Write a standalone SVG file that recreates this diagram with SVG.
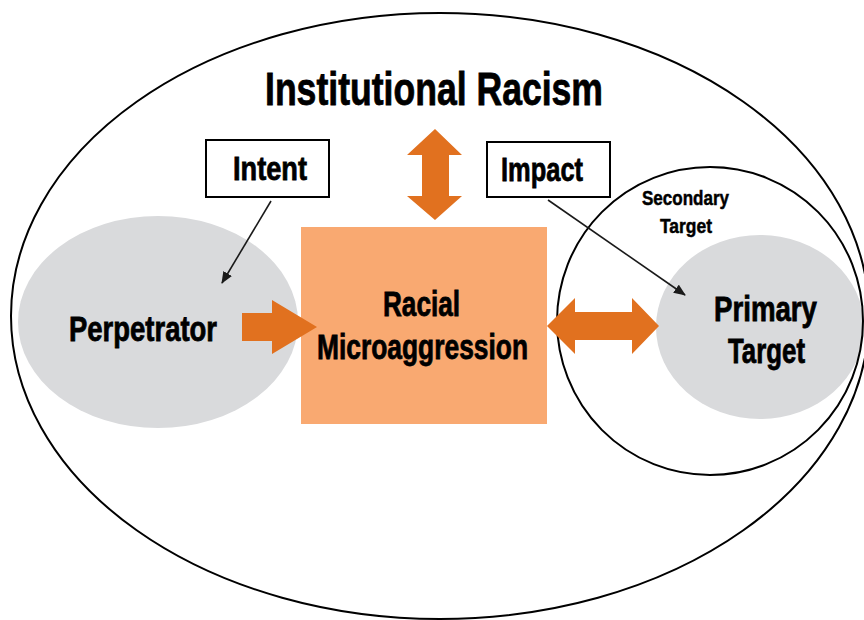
<svg xmlns="http://www.w3.org/2000/svg" width="864" height="620" viewBox="0 0 864 620">
  <style>
    .t { font-family: "Liberation Sans", "DejaVu Sans", sans-serif; font-weight: bold; fill: #000; stroke: #000; stroke-width: 0.8; }
    .s { stroke-width: 0.5; }
    .ring { fill: none; stroke: #000; stroke-width: 2; }
    .blob { fill: #D9DADC; }
    .box { fill: #fff; stroke: #000; stroke-width: 2; }
    .orange { fill: #E1711F; }
    .line { stroke: #1a1a1a; stroke-width: 1.6; fill: none; }
  </style>
  <defs>
    <marker id="ah" viewBox="0 0 12 10" refX="11" refY="5" markerWidth="12" markerHeight="10" markerUnits="userSpaceOnUse" orient="auto">
      <path d="M0,0 L12,5 L0,10 Z" fill="#1a1a1a"/>
    </marker>
  </defs>
  <rect width="864" height="620" fill="#fff"/>

  <g id="institutional-racism">
    <ellipse class="ring" cx="440" cy="316" rx="429" ry="303"/>
    <text class="t" x="265" y="105" font-size="46" textLength="338" lengthAdjust="spacingAndGlyphs">Institutional Racism</text>
  </g>

  <g id="perpetrator">
    <ellipse class="blob" cx="158" cy="322" rx="140" ry="106"/>
    <text class="t" x="69" y="341" font-size="35" textLength="148" lengthAdjust="spacingAndGlyphs">Perpetrator</text>
  </g>

  <g id="primary-target">
    <ellipse class="blob" cx="760" cy="327" rx="104" ry="92"/>
    <text class="t" x="714" y="321" font-size="35" textLength="103" lengthAdjust="spacingAndGlyphs">Primary</text>
    <text class="t" x="728" y="363" font-size="35" textLength="77" lengthAdjust="spacingAndGlyphs">Target</text>
  </g>

  <g id="secondary-target">
    <ellipse class="ring" cx="710" cy="321" rx="153" ry="154"/>
    <text class="t s" x="642" y="205" font-size="21" textLength="87" lengthAdjust="spacingAndGlyphs">Secondary</text>
    <text class="t s" x="660" y="233" font-size="21" textLength="52" lengthAdjust="spacingAndGlyphs">Target</text>
  </g>

  <g id="racial-microaggression">
    <rect x="301" y="227" width="246" height="197" fill="#F9A971"/>
    <text class="t" x="383" y="316" font-size="35" textLength="77" lengthAdjust="spacingAndGlyphs">Racial</text>
    <text class="t" x="317" y="359" font-size="35" textLength="211" lengthAdjust="spacingAndGlyphs">Microaggression</text>
  </g>

  <g id="intent">
    <rect class="box" x="206" y="140" width="123" height="57"/>
    <text class="t" x="233" y="180" font-size="34" textLength="74" lengthAdjust="spacingAndGlyphs">Intent</text>
  </g>

  <g id="impact">
    <rect class="box" x="487" y="142" width="123" height="55"/>
    <text class="t" x="501" y="181" font-size="34" textLength="82" lengthAdjust="spacingAndGlyphs">Impact</text>
  </g>

  <g id="connectors">
    <path class="orange" d="M242,313 H272 V300 L317,327 L272,354 V341 H242 Z"/>
    <path class="orange" d="M435,129 L462,155 H449 V196 H462 L435,220 L407,196 H422 V155 H407 Z"/>
    <path class="orange" d="M547,326 L575,298 V312 H632 V298 L659,326 L632,354 V340 H575 V354 Z"/>
    <line class="line" x1="271" y1="201" x2="222" y2="283" marker-end="url(#ah)"/>
    <line class="line" x1="548" y1="200" x2="685" y2="295" marker-end="url(#ah)"/>
  </g>
</svg>
